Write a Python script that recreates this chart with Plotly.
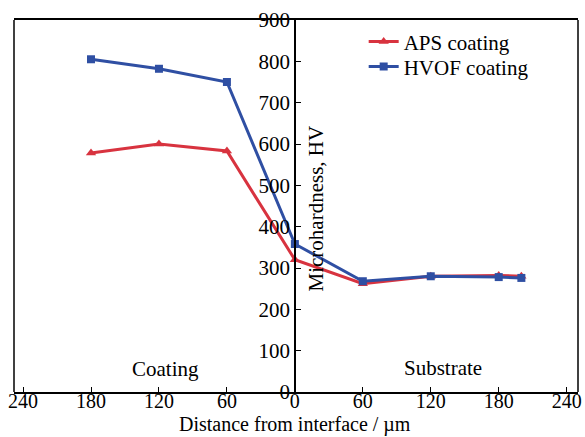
import plotly.graph_objects as go

distance = [-180, -120, -60, 0, 60, 120, 180, 200]
aps = [578, 600, 583, 320, 262, 280, 282, 280]
hvof = [805, 782, 750, 358, 268, 280, 278, 276]

xtick_vals = [-240, -180, -120, -60, 0, 60, 120, 180, 240]
xtick_text = [str(abs(v)) for v in xtick_vals]
ytick_vals = [0, 100, 200, 300, 400, 500, 600, 700, 800, 900]

xr = [-248, 250]
font = "Liberation Serif, Times New Roman, serif"
fs = 21
fsx = 20

fig = go.Figure()
fig.add_trace(go.Scatter(x=distance, y=aps, mode="lines+markers", name="APS coating",
                         line=dict(color="#d8333f", width=3),
                         marker=dict(symbol="triangle-up", size=9, color="#d8333f"),
                         legend="legend"))
fig.add_trace(go.Scatter(x=distance, y=hvof, mode="lines+markers", name="HVOF coating",
                         line=dict(color="#2f4fa3", width=3),
                         marker=dict(symbol="square", size=8, color="#2f4fa3"),
                         legend="legend2"))

leg_common = dict(xanchor="left", yanchor="middle", bgcolor="rgba(0,0,0,0)",
                  font=dict(size=fs, family=font), itemwidth=30)

fig.update_layout(
    width=585, height=437,
    margin=dict(l=14, r=3, t=20, b=45),
    plot_bgcolor="white", paper_bgcolor="white",
    font=dict(family=font, size=fs, color="black"),
    showlegend=True,
    legend=dict(x=0.62, y=0.941, **leg_common),
    legend2=dict(x=0.62, y=0.874, **leg_common),
    xaxis=dict(range=xr, tickvals=xtick_vals, ticktext=xtick_text,
               showline=True, linecolor="black", linewidth=1.5, mirror=True,
               ticks="inside", ticklen=5, tickcolor="black",
               showgrid=False, zeroline=False, ticklabelstandoff=-10,
               ticklabeloverflow="allow",
               tickfont=dict(size=fsx, family=font)),
    yaxis=dict(range=[0, 900], tickvals=ytick_vals, anchor="free",
               position=(0 - xr[0]) / (xr[1] - xr[0]),
               showline=True, linecolor="black", linewidth=1.5,
               ticks="inside", ticklen=5, tickcolor="black",
               showgrid=False, zeroline=False, ticklabelstandoff=0,
               ticklabeloverflow="allow",
               tickfont=dict(size=fs, family=font)),
)

fig.add_shape(type="line", xref="paper", yref="paper", x0=0, x1=0, y0=0, y1=1,
              line=dict(color="black", width=1.5))
fig.add_shape(type="line", xref="paper", yref="paper", x0=1, x1=1, y0=0, y1=1,
              line=dict(color="black", width=1.5))

fig.add_annotation(x=0, xref="x", y=-45 / 372, yref="paper", yanchor="bottom",
                   text="Distance from interface / µm", showarrow=False, borderpad=0,
                   font=dict(size=fsx, family=font))
fig.add_annotation(x=19, y=445, text="Microhardness, HV", textangle=-90, showarrow=False,
                   font=dict(size=fs, family=font), xanchor="center", yanchor="middle")
fig.add_annotation(x=-114, y=55, text="Coating", showarrow=False,
                   font=dict(size=fs, family=font))
fig.add_annotation(x=131, y=58, text="Substrate", showarrow=False,
                   font=dict(size=fs, family=font))

fig.write_html("out.html")
